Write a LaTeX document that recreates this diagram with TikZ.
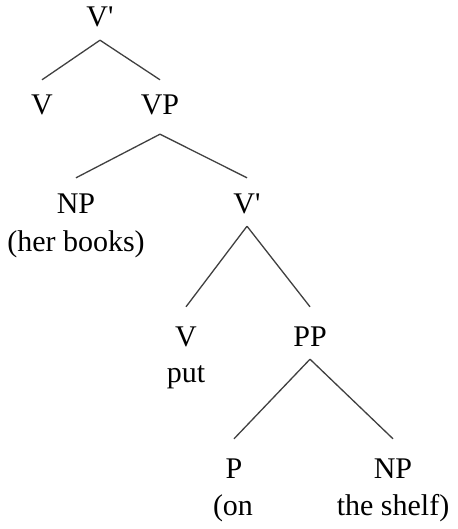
\documentclass[tikz,border=0pt]{standalone}
\usepackage{fontspec}
\setmainfont{Liberation Serif}[Ligatures=TeXOff]
\begin{document}
\begin{tikzpicture}[x=1pt,y=-1pt,
  cat/.style={anchor=base,inner xsep=0pt,inner ysep=13pt,text height=22pt,text depth=0pt,font=\fontsize{30}{36}\selectfont},
  gloss/.style={anchor=base,inner sep=0pt,font=\fontsize{30}{36}\selectfont},
  branch/.style={draw=black!75,line width=1.3pt}]
\useasboundingbox[fill=white] (0,0) rectangle (457,529);
\node[cat] (vbar1) at (100,27) {V'};
\node[cat] (v1) at (42,115) {V};
\node[cat] (vp) at (160,115) {VP};
\node[cat] (np1) at (76,213) {NP};
\node[gloss] (g1) at (76,251) {(her books)};
\node[cat] (vbar2) at (247,213) {V'};
\node[cat] (v2) at (186,346) {V};
\node[gloss] (g2) at (186,382) {put};
\node[cat] (pp) at (310,346) {PP};
\node[cat] (p) at (234,478) {P};
\node[gloss] (g3) at (233,515) {(on};
\node[cat] (np2) at (393,478) {NP};
\node[gloss] (g4) at (393,515) {the shelf)};
\draw[branch] (vbar1.south) -- (v1.north);
\draw[branch] (vbar1.south) -- (vp.north);
\draw[branch] ([yshift=-6pt]vp.south) -- (np1.north);
\draw[branch] ([yshift=-6pt]vp.south) -- (vbar2.north);
\draw[branch] (vbar2.south) -- ([yshift=4pt]v2.north);
\draw[branch] (vbar2.south) -- ([yshift=4pt]pp.north);
\draw[branch] (pp.south) -- ([yshift=4pt]p.north);
\draw[branch] (pp.south) -- ([yshift=4pt]np2.north);
\end{tikzpicture}
\end{document}
